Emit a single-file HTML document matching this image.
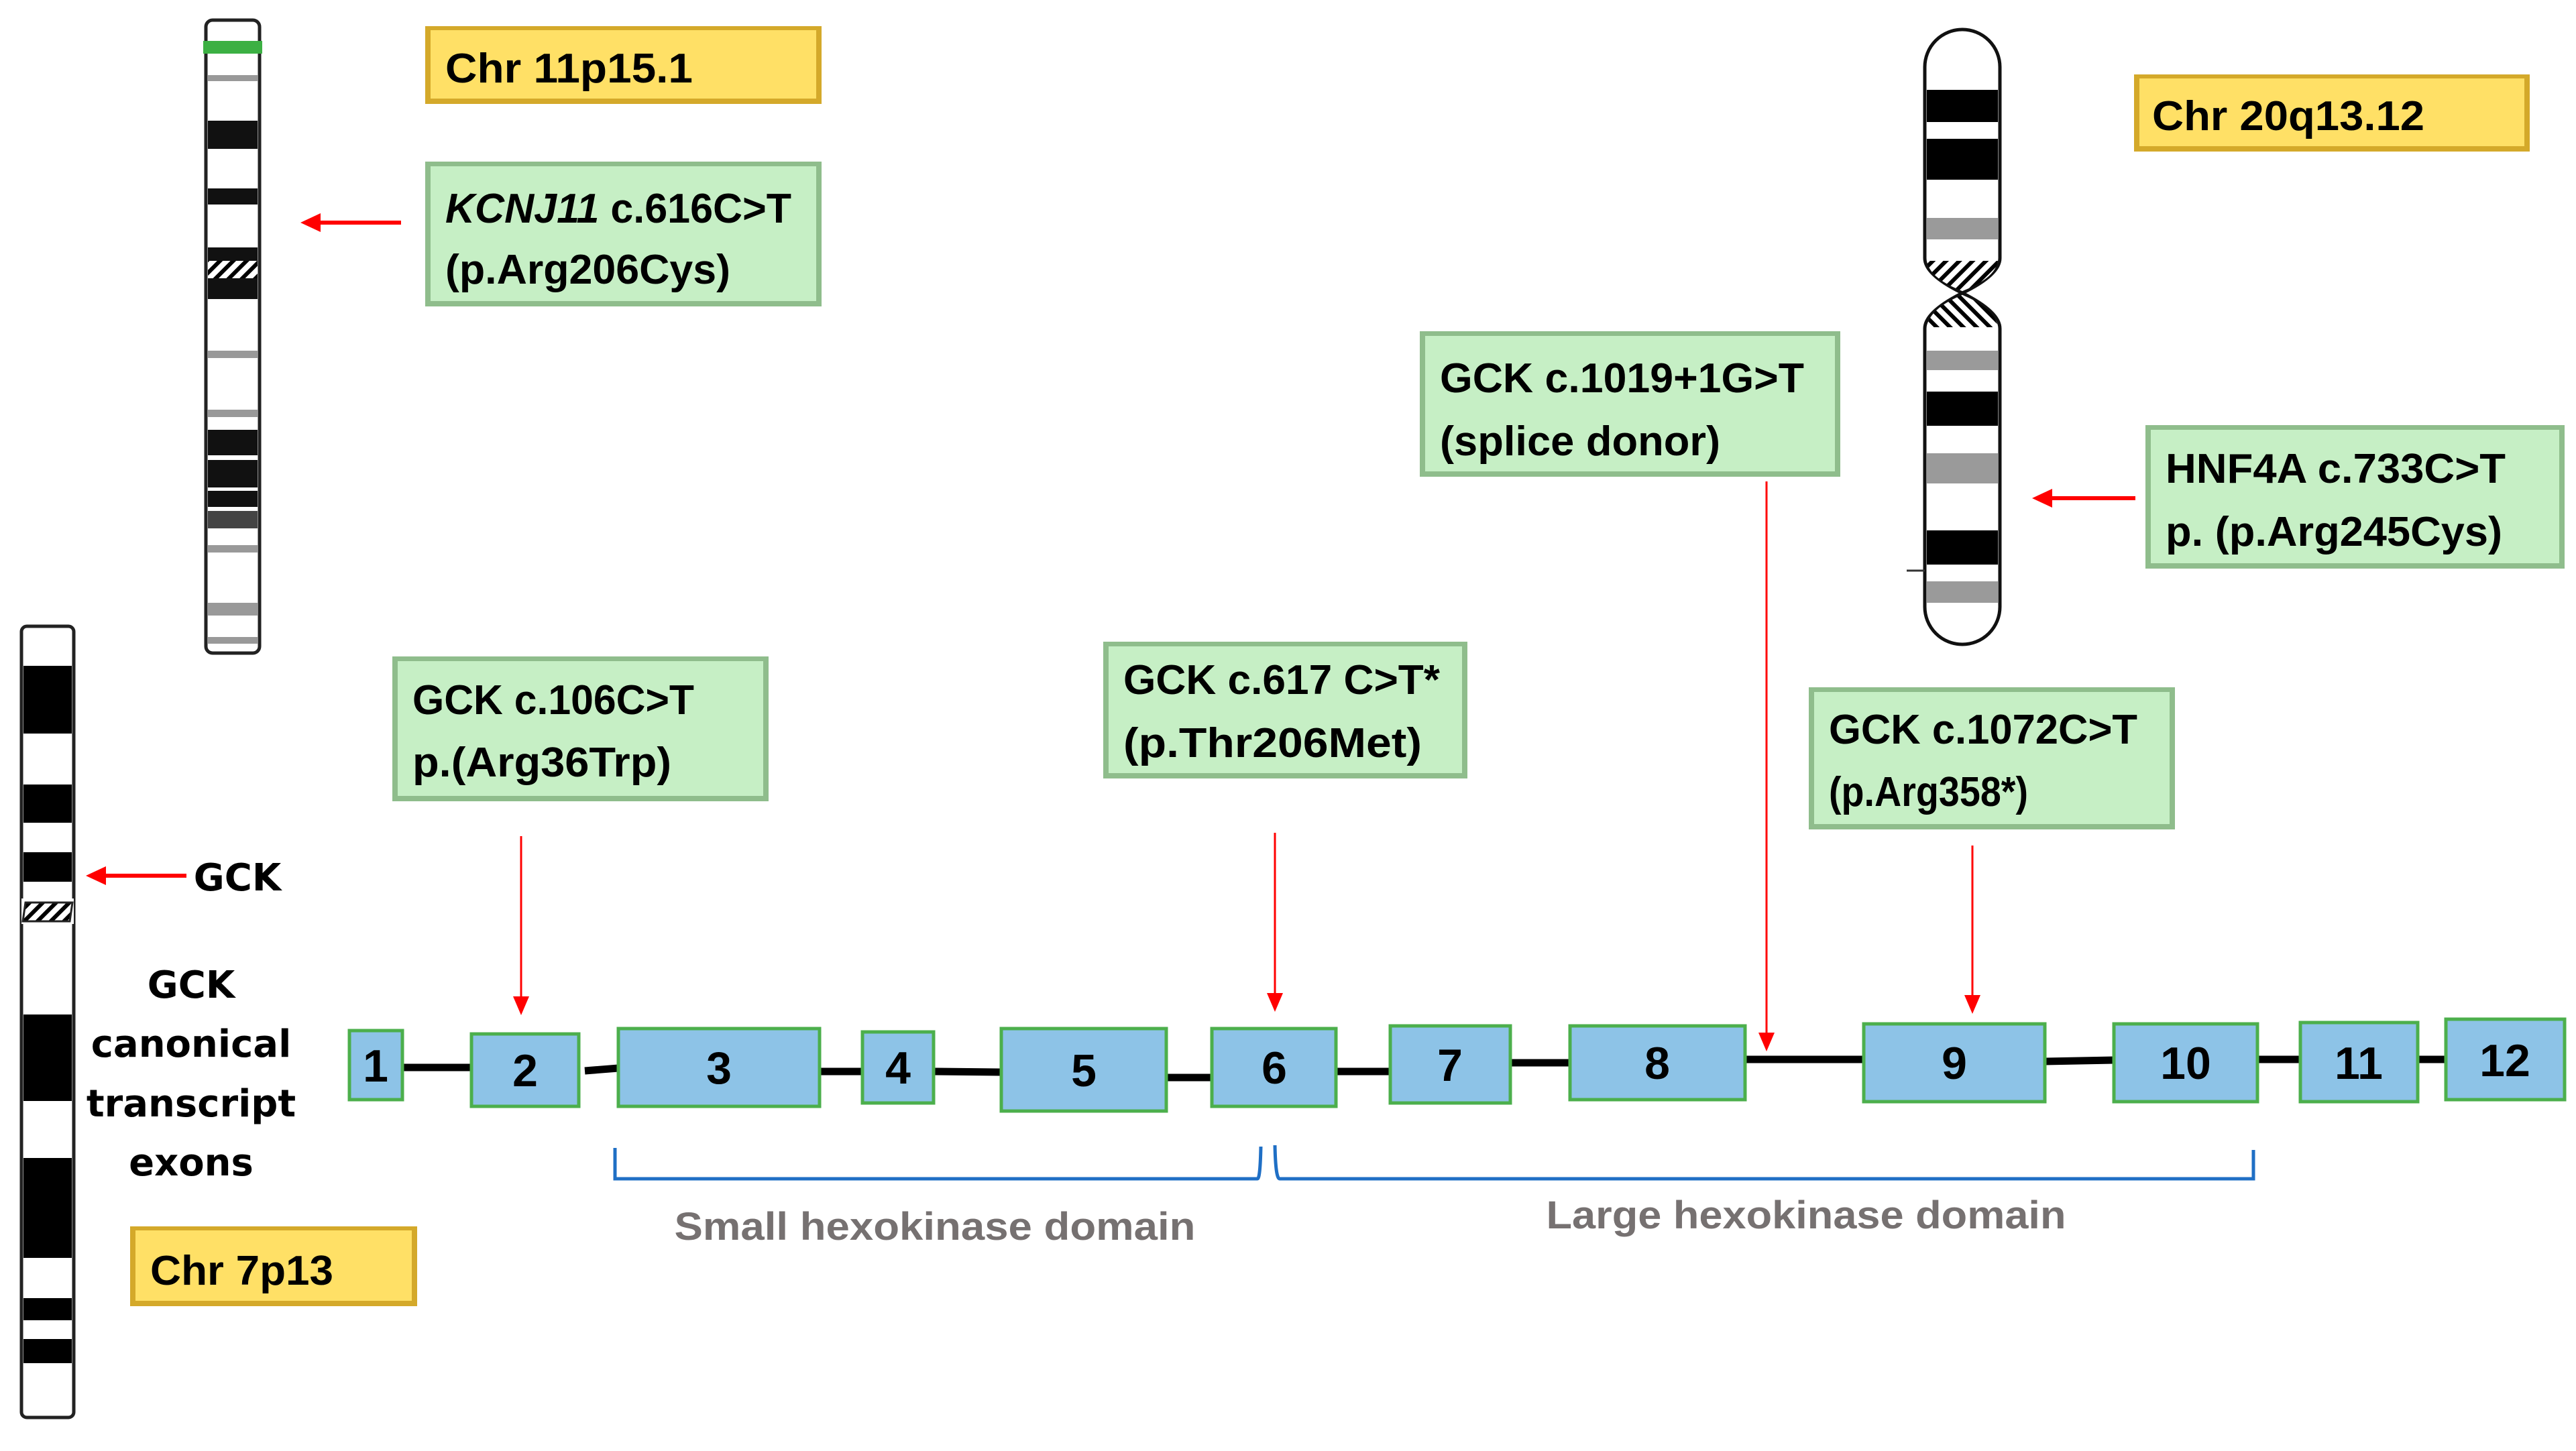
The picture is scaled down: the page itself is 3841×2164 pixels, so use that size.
<!DOCTYPE html>
<html><head><meta charset="utf-8"><style>
html,body{margin:0;padding:0;background:#fff;width:3841px;height:2164px;overflow:hidden}
svg{display:block}
.t{font-family:"Liberation Sans",sans-serif;font-weight:bold;fill:#000}
.d{font-family:"DejaVu Sans","Liberation Sans",sans-serif;font-weight:bold;fill:#000}
</style></head><body>
<svg width="3841" height="2164" viewBox="0 0 3841 2164" xmlns="http://www.w3.org/2000/svg">
<defs>
<pattern id="h" width="14" height="14" patternUnits="userSpaceOnUse" patternTransform="rotate(45)">
<rect width="14" height="14" fill="#fff"/><rect width="6" height="14" fill="#000"/></pattern>
<pattern id="h2" width="14" height="14" patternUnits="userSpaceOnUse" patternTransform="rotate(-45)">
<rect width="14" height="14" fill="#fff"/><rect width="6" height="14" fill="#000"/></pattern>
</defs>

<!-- Chr11 chromosome -->
<g>
<rect x="307" y="30" width="80" height="944" rx="10" fill="#fff" stroke="#222" stroke-width="5"/>
<rect x="303" y="61" width="88" height="19" fill="#3cb043"/>
<g fill="#999"><rect x="310" y="112" width="74" height="9"/><rect x="310" y="523" width="74" height="11"/><rect x="310" y="611" width="74" height="11"/><rect x="310" y="813" width="74" height="11"/><rect x="310" y="899" width="74" height="19"/><rect x="310" y="950" width="74" height="10"/></g>
<g fill="#111"><rect x="310" y="180" width="74" height="42"/><rect x="310" y="281" width="74" height="24"/><rect x="310" y="369" width="74" height="20"/><rect x="310" y="415" width="74" height="31"/><rect x="310" y="641" width="74" height="38"/><rect x="310" y="686" width="74" height="41"/><rect x="310" y="732" width="74" height="24"/></g>
<rect x="310" y="762" width="74" height="26" fill="#444"/>
<rect x="310" y="389" width="74" height="26" fill="url(#h)"/>
</g>

<!-- Chr20 chromosome -->
<g>
<path d="M2870,100 A56,56 0 0 1 2982,100 L2982,385 Q2982,410 2926,437 Q2870,410 2870,385 Z" fill="#fff" stroke="#111" stroke-width="5"/>
<path d="M2870,490 Q2870,465 2926,437 Q2982,465 2982,490 L2982,905 A56,56 0 0 1 2870,905 Z" fill="#fff" stroke="#111" stroke-width="5"/>
<g fill="#000"><rect x="2873" y="134" width="106" height="48"/><rect x="2873" y="207" width="106" height="61"/><rect x="2873" y="584" width="106" height="51"/><rect x="2873" y="791" width="106" height="51"/></g>
<g fill="#9a9a9a"><rect x="2873" y="325" width="106" height="32"/><rect x="2873" y="523" width="106" height="29"/><rect x="2873" y="676" width="106" height="45"/><rect x="2873" y="867" width="106" height="32"/></g>
<path d="M2873,389 L2979,389 Q2975,415 2926,434 Q2877,415 2873,389Z" fill="url(#h)"/>
<path d="M2873,488 L2979,488 Q2975,460 2926,440 Q2877,460 2873,488Z" fill="url(#h2)"/>
<line x1="2843" y1="851" x2="2870" y2="851" stroke="#333" stroke-width="3"/>
</g>

<!-- Chr7 chromosome -->
<g>
<rect x="32" y="934" width="78" height="1180" rx="8" fill="#fff" stroke="#222" stroke-width="5"/>
<g fill="#000"><rect x="35" y="993" width="72" height="101"/><rect x="35" y="1170" width="72" height="57"/><rect x="35" y="1271" width="72" height="44"/><rect x="35" y="1513" width="72" height="129"/><rect x="35" y="1727" width="72" height="149"/><rect x="35" y="1936" width="72" height="33"/><rect x="35" y="1997" width="72" height="36"/></g>
<rect x="32" y="1340" width="78" height="38" fill="#fff"/>
<path d="M38,1346 L108,1346 L104,1374 L34,1374Z" fill="url(#h)" stroke="#222" stroke-width="3"/>
</g>

<!-- yellow boxes -->
<g>
<rect x="634" y="39" width="591" height="116" fill="#d4a92a"/><rect x="642" y="45" width="575" height="102" fill="#ffe066"/>
<rect x="3182" y="111" width="590" height="115" fill="#d4a92a"/><rect x="3190" y="117" width="574" height="101" fill="#ffe066"/>
<rect x="194" y="1829" width="428" height="119" fill="#d4a92a"/><rect x="202" y="1835" width="412" height="105" fill="#ffe066"/>
</g>
<!-- green boxes -->
<g>
<rect x="634" y="241" width="591" height="216" fill="#8fbd8c"/><rect x="642" y="248" width="575" height="201" fill="#c6efc5"/>
<rect x="3199" y="634" width="625" height="214" fill="#8fbd8c"/><rect x="3207" y="641" width="609" height="199" fill="#c6efc5"/>
<rect x="2117" y="494" width="627" height="217" fill="#8fbd8c"/><rect x="2125" y="501" width="611" height="202" fill="#c6efc5"/>
<rect x="585" y="979" width="561" height="216" fill="#8fbd8c"/><rect x="593" y="986" width="545" height="201" fill="#c6efc5"/>
<rect x="1645" y="957" width="543" height="204" fill="#8fbd8c"/><rect x="1653" y="964" width="527" height="189" fill="#c6efc5"/>
<rect x="2697" y="1025" width="546" height="212" fill="#8fbd8c"/><rect x="2705" y="1032" width="530" height="197" fill="#c6efc5"/>
</g>

<!-- text in boxes -->
<g class="t" font-size="62">
<text x="664" y="123" textLength="369" lengthAdjust="spacingAndGlyphs">Chr 11p15.1</text>
<text x="664" y="332" textLength="516" lengthAdjust="spacingAndGlyphs"><tspan font-style="italic">KCNJ11</tspan> c.616C&gt;T</text>
<text x="664" y="423" textLength="425" lengthAdjust="spacingAndGlyphs">(p.Arg206Cys)</text>
<text x="3209" y="194" textLength="406" lengthAdjust="spacingAndGlyphs">Chr 20q13.12</text>
<text x="3229" y="720" textLength="507" lengthAdjust="spacingAndGlyphs">HNF4A c.733C&gt;T</text>
<text x="3229" y="814" textLength="502" lengthAdjust="spacingAndGlyphs">p. (p.Arg245Cys)</text>
<text x="2147" y="585" textLength="543" lengthAdjust="spacingAndGlyphs">GCK c.1019+1G&gt;T</text>
<text x="2147" y="679" textLength="418" lengthAdjust="spacingAndGlyphs">(splice donor)</text>
<text x="615" y="1065" textLength="420" lengthAdjust="spacingAndGlyphs">GCK c.106C&gt;T</text>
<text x="615" y="1158" textLength="386" lengthAdjust="spacingAndGlyphs">p.(Arg36Trp)</text>
<text x="1675" y="1035" textLength="472" lengthAdjust="spacingAndGlyphs">GCK c.617 C&gt;T*</text>
<text x="1675" y="1129" textLength="445" lengthAdjust="spacingAndGlyphs">(p.Thr206Met)</text>
<text x="2727" y="1109" textLength="460" lengthAdjust="spacingAndGlyphs">GCK c.1072C&gt;T</text>
<text x="2727" y="1202" textLength="297" lengthAdjust="spacingAndGlyphs">(p.Arg358*)</text>
<text x="224" y="1916" textLength="273" lengthAdjust="spacingAndGlyphs">Chr 7p13</text>
</g>

<!-- left labels -->
<g class="d" font-size="56" text-anchor="middle">
<text x="354" y="1328">GCK</text>
<text x="285" y="1488">GCK</text>
<text x="285" y="1576">canonical</text>
<text x="285" y="1665">transcript</text>
<text x="285" y="1753">exons</text>
</g>

<!-- red arrows -->
<g stroke="#f00" fill="none">
<line x1="598" y1="332" x2="470" y2="332" stroke-width="6"/>
<line x1="3184" y1="743" x2="3050" y2="743" stroke-width="6"/>
<line x1="278" y1="1306" x2="150" y2="1306" stroke-width="6"/>
<line x1="777" y1="1247" x2="777" y2="1490" stroke-width="3"/>
<line x1="1901" y1="1242" x2="1901" y2="1485" stroke-width="3"/>
<line x1="2634" y1="718" x2="2634" y2="1544" stroke-width="3"/>
<line x1="2941" y1="1261" x2="2941" y2="1488" stroke-width="3"/>
</g>
<g fill="#f00">
<polygon points="448,332 478,318 478,346"/>
<polygon points="3030,743 3060,729 3060,757"/>
<polygon points="128,1306 158,1292 158,1320"/>
<polygon points="777,1514 765,1486 789,1486"/>
<polygon points="1901,1509 1889,1481 1913,1481"/>
<polygon points="2634,1568 2622,1540 2646,1540"/>
<polygon points="2941,1512 2929,1484 2953,1484"/>
</g>

<!-- introns -->
<g stroke="#000" stroke-width="11">
<line x1="600" y1="1592" x2="703" y2="1592"/>
<line x1="872" y1="1597" x2="922" y2="1593"/>
<line x1="1222" y1="1598" x2="1286" y2="1598"/>
<line x1="1392" y1="1598" x2="1493" y2="1599"/>
<line x1="1739" y1="1607" x2="1807" y2="1607"/>
<line x1="1992" y1="1598" x2="2073" y2="1598"/>
<line x1="2252" y1="1585" x2="2341" y2="1585"/>
<line x1="2602" y1="1580" x2="2779" y2="1580"/>
<line x1="3049" y1="1583" x2="3152" y2="1581"/>
<line x1="3366" y1="1580" x2="3430" y2="1580"/>
<line x1="3605" y1="1580" x2="3647" y2="1580"/>
</g>

<!-- exons -->
<g fill="#8dc3e7" stroke="#4caf4c" stroke-width="5">
<rect x="521" y="1537" width="79" height="103"/>
<rect x="703" y="1542" width="160" height="108"/>
<rect x="922" y="1534" width="300" height="116"/>
<rect x="1286" y="1539" width="106" height="106"/>
<rect x="1493" y="1534" width="246" height="123"/>
<rect x="1807" y="1534" width="185" height="116"/>
<rect x="2073" y="1530" width="179" height="115"/>
<rect x="2341" y="1530" width="261" height="110"/>
<rect x="2779" y="1527" width="270" height="116"/>
<rect x="3152" y="1527" width="214" height="116"/>
<rect x="3430" y="1525" width="175" height="118"/>
<rect x="3647" y="1520" width="177" height="120"/>
</g>
<g class="t" font-size="68" text-anchor="middle">
<text x="560" y="1613">1</text>
<text x="783" y="1620">2</text>
<text x="1072" y="1616">3</text>
<text x="1339" y="1616">4</text>
<text x="1616" y="1620">5</text>
<text x="1900" y="1616">6</text>
<text x="2162" y="1612">7</text>
<text x="2471" y="1609">8</text>
<text x="2914" y="1609">9</text>
<text x="3259" y="1609">10</text>
<text x="3517" y="1609">11</text>
<text x="3735" y="1605">12</text>
</g>

<!-- brackets -->
<g stroke="#1f6fc5" stroke-width="5" fill="none">
<path d="M917,1712 L917,1758 L1875,1758 Q1879,1758 1880,1710"/>
<path d="M1901,1708 Q1902,1758 1908,1758 L3360,1758 L3360,1715"/>
</g>
<g class="t" font-size="58" style="fill:#767171" text-anchor="middle">
<text x="1394" y="1849" textLength="777" lengthAdjust="spacingAndGlyphs">Small hexokinase domain</text>
<text x="2693" y="1832" textLength="775" lengthAdjust="spacingAndGlyphs">Large hexokinase domain</text>
</g>
</svg>
</body></html>
